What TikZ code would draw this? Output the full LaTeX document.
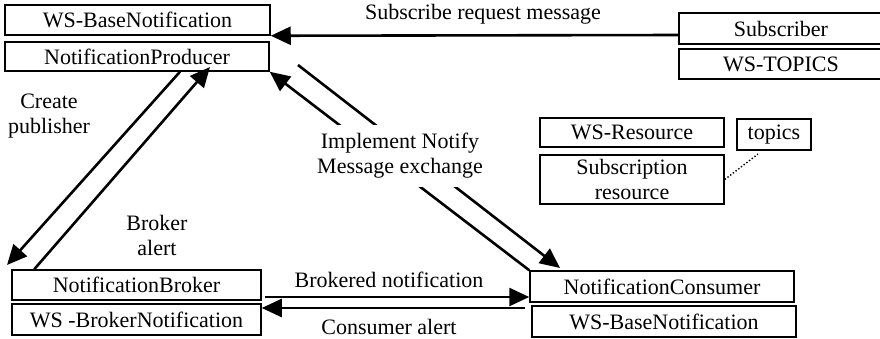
\documentclass[tikz,border=0pt]{standalone}
\usepackage{fontspec}
\setmainfont{Liberation Serif}
\usetikzlibrary{arrows.meta,calc}
\begin{document}
\begin{tikzpicture}[x=1pt,y=-1pt,
  box/.style={draw, line width=1.5pt, inner sep=0pt, font=\fontsize{22}{25}\selectfont, align=center},
  arr/.style={line width=2.6pt, -{Triangle[length=20pt,width=18pt]}},
  lbl/.style={font=\fontsize{22}{25}\selectfont, align=center, inner sep=0pt}]
\useasboundingbox (0,0) rectangle (880,338);
% boxes
\node[box, minimum width=265pt, minimum height=30pt] (base1) at (137.5,20) {WS-BaseNotification};
\node[box, minimum width=264pt, minimum height=29pt] (prod) at (137,56.5) {NotificationProducer};
\node[box, minimum width=204pt, minimum height=31pt] (subscr) at (781,28.5) {Subscriber};
\node[box, minimum width=204pt, minimum height=30pt] (topicsws) at (781,64) {WS-TOPICS};
\node[box, minimum width=184pt, minimum height=29pt] (wsres) at (632,132.5) {WS-Resource};
\node[box, minimum width=184pt, minimum height=49pt] (subres) at (632,179.5) {Subscription\\resource};
\node[box, minimum width=74pt, minimum height=31pt] (topics) at (774,134.5) {topics};
\node[box, minimum width=249pt, minimum height=30pt] (broker) at (136.5,285) {NotificationBroker};
\node[box, minimum width=249pt, minimum height=31pt] (wsbroker) at (136.5,319.5) {WS -BrokerNotification};
\node[box, minimum width=264pt, minimum height=31pt] (cons) at (662,286.5) {NotificationConsumer};
\node[box, minimum width=264pt, minimum height=31pt] (base2) at (664,321.5) {WS-BaseNotification};
% free ends
\coordinate (q0) at (298,65);
\coordinate (q1) at (560,268);
\coordinate (c1) at (7,265);
\coordinate (b1) at (210,67);
\coordinate (bn0) at (265,297);
\coordinate (ca0) at (525,308);
\coordinate (tp) at (758,154);
% connectors
\draw[arr] ([yshift=-6.5pt]subscr.west) -- (base1.south east);
\draw[arr] (cons.north west) -- (prod.south east);
\draw[arr] (q0) -- (q1);
\draw[arr] ([xshift=43pt]prod.south) -- (c1);
\draw[arr] ([xshift=23pt]broker.north west) -- (b1);
\draw[arr] (bn0) -- (cons.west |- bn0);
\draw[arr] (ca0) -- (wsbroker.east |- ca0);
\draw[dotted, line width=1.4pt] (subres.east) -- (tp);
% labels
\node[lbl] (lsub) at (483,14) {Subscribe request message};
\node[lbl] (lcreate) at (49,116) {Create\\publisher};
\node[lbl] (lbroker) at (157,235) {Broker\\alert};
\node[lbl] (lbrokered) at (389,280) {Brokered notification};
\node[lbl] (lcons) at (389,327) {Consumer alert};
\node[lbl, fill=white, inner xsep=4pt, inner ysep=8pt] (limpl) at (400,156) {Implement Notify\\Message exchange};
\end{tikzpicture}
\end{document}
